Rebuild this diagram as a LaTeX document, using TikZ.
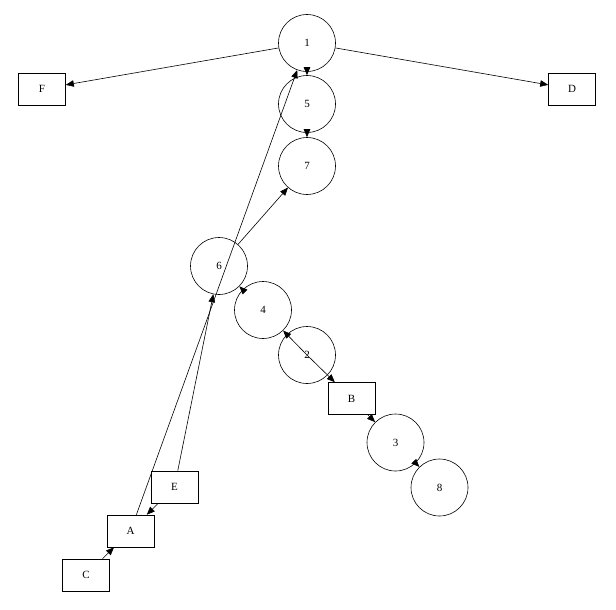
\documentclass[tikz,border=0pt]{standalone}
\usepackage{fontspec}
\setmainfont{Liberation Serif}
\usetikzlibrary{arrows.meta}
\begin{document}
\begin{tikzpicture}[x=1pt,y=-1pt,
  circ/.style={circle, draw, line width=0.6pt, minimum size=57pt, inner sep=0pt, font=\fontsize{11}{13}\selectfont},
  box/.style={rectangle, draw, line width=0.6pt, minimum width=47pt, minimum height=32pt, inner sep=0pt, font=\fontsize{11}{13}\selectfont},
  edge/.style={draw, line width=0.6pt, -{Triangle[length=8pt,width=6.5pt]}}]
\useasboundingbox (0,0) rectangle (616,610);
\node[circ] (n1) at (307,43) {1};
\node[circ] (n5) at (307,104) {5};
\node[circ] (n7) at (307,166) {7};
\node[circ] (n6) at (219,266) {6};
\node[circ] (n4) at (263,310) {4};
\node[circ] (n2) at (307,355) {2};
\node[circ] (n3) at (395.5,442.5) {3};
\node[circ] (n8) at (439.5,487.5) {8};
\node[box] (F) at (42,89) {F};
\node[box] (D) at (572,89) {D};
\node[box] (B) at (351.5,398.5) {B};
\node[box] (E) at (174.5,487) {E};
\node[box] (A) at (130.5,531) {A};
\node[box] (C) at (86,575) {C};
\draw[edge] (n1) -- (F);
\draw[edge] (n1) -- (D);
\draw[edge] (n1) -- (n5);
\draw[edge] (n5) -- (n7);
\draw[edge] (n6) -- (n7);
\draw[edge] (A) -- (n1);
\draw[edge] (E) -- (n6);
\draw[edge] (n4) -- (n6);
\draw[edge] (n2.center) -- (n4);
\draw[edge] (n2.center) -- (B);
\draw[edge] (B) -- (n3);
\draw[edge] (n3) -- (n8);
\draw[edge] (E) -- (A);
\draw[edge] (C) -- (A);
\end{tikzpicture}
\end{document}
